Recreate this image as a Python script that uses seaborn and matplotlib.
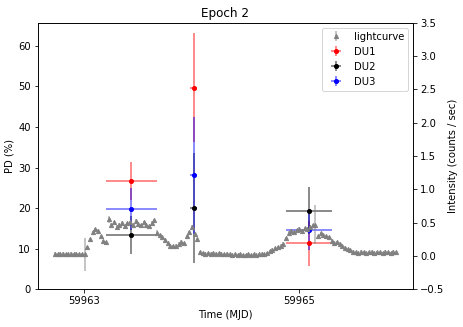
import matplotlib
matplotlib.use("Agg")
import matplotlib.pyplot as plt
import seaborn as sns
import numpy as np

# ---------------- data ----------------
lc_time = [
    59962.730, 59962.755, 59962.780, 59962.805, 59962.830, 59962.855, 59962.880, 59962.905, 59962.930, 59962.955,
    59962.980, 59963.005, 59963.030, 59963.055, 59963.080, 59963.105, 59963.130, 59963.155, 59963.180, 59963.205,
    59963.230, 59963.255, 59963.280, 59963.305, 59963.330, 59963.355, 59963.380, 59963.405, 59963.430, 59963.455,
    59963.480, 59963.505, 59963.530, 59963.555, 59963.580, 59963.605, 59963.630, 59963.655, 59963.680, 59963.705,
    59963.730, 59963.755, 59963.780, 59963.805, 59963.830, 59963.855, 59963.880, 59963.905, 59963.930, 59963.955,
    59963.980, 59964.005, 59964.030, 59964.055, 59964.080, 59964.105, 59964.130, 59964.155, 59964.180, 59964.205,
    59964.230, 59964.255, 59964.280, 59964.305, 59964.330, 59964.355, 59964.380, 59964.405, 59964.430, 59964.455,
    59964.480, 59964.505, 59964.530, 59964.555, 59964.580, 59964.605, 59964.630, 59964.655, 59964.680, 59964.705,
    59964.730, 59964.755, 59964.780, 59964.805, 59964.830, 59964.855, 59964.880, 59964.905, 59964.930, 59964.955,
    59964.980, 59965.005, 59965.030, 59965.055, 59965.080, 59965.105, 59965.130, 59965.155, 59965.180, 59965.205,
    59965.230, 59965.255, 59965.280, 59965.305, 59965.330, 59965.355, 59965.380, 59965.405, 59965.430, 59965.455,
    59965.480, 59965.505, 59965.530, 59965.555, 59965.580, 59965.605, 59965.630, 59965.655, 59965.680, 59965.705,
    59965.730, 59965.755, 59965.780, 59965.805, 59965.830, 59965.855, 59965.880, 59965.905,
]
lc_rate = [
    0.03, 0.02, 0.03, 0.03, 0.02, 0.02, 0.03, 0.02, 0.03, 0.02,
    0.02, 0.02, 0.13, 0.25, 0.36, 0.40, 0.38, 0.29, 0.22, 0.20,
    0.55, 0.47, 0.51, 0.44, 0.47, 0.50, 0.45, 0.49, 0.51, 0.46,
    0.53, 0.48, 0.46, 0.51, 0.47, 0.45, 0.50, 0.54, 0.35, 0.31,
    0.28, 0.24, 0.19, 0.15, 0.14, 0.15, 0.18, 0.21, 0.19, 0.29,
    0.36, 0.44, 0.33, 0.25, 0.05, 0.04, 0.03, 0.04, 0.03, 0.04,
    0.03, 0.04, 0.03, 0.02, 0.03, 0.02, 0.01, 0.02, 0.01, 0.02,
    0.01, 0.01, 0.02, 0.01, 0.02, 0.01, 0.02, 0.03, 0.02, 0.04,
    0.07, 0.09, 0.11, 0.13, 0.15, 0.18, 0.26, 0.35, 0.38, 0.36,
    0.39, 0.41, 0.38, 0.42, 0.40, 0.43, 0.46, 0.47, 0.30, 0.34,
    0.31, 0.30, 0.28, 0.22, 0.19, 0.20, 0.18, 0.14, 0.12, 0.10,
    0.08, 0.06, 0.05, 0.04, 0.06, 0.05, 0.04, 0.05, 0.06, 0.04,
    0.05, 0.05, 0.04, 0.06, 0.05, 0.04, 0.06, 0.05,
]
lc_err = [
    0.02, 0.02, 0.02, 0.02, 0.02, 0.02, 0.02, 0.02, 0.02, 0.02,
    0.02, 0.25, 0.02, 0.02, 0.02, 0.02, 0.02, 0.02, 0.02, 0.02,
    0.05, 0.02, 0.02, 0.02, 0.02, 0.02, 0.02, 0.02, 0.02, 0.02,
    0.02, 0.02, 0.02, 0.02, 0.02, 0.02, 0.02, 0.02, 0.04, 0.02,
    0.02, 0.02, 0.02, 0.02, 0.02, 0.02, 0.02, 0.02, 0.02, 0.02,
    0.02, 0.02, 0.02, 0.02, 0.02, 0.02, 0.02, 0.02, 0.02, 0.02,
    0.02, 0.02, 0.02, 0.02, 0.02, 0.02, 0.02, 0.02, 0.02, 0.02,
    0.02, 0.02, 0.02, 0.02, 0.02, 0.02, 0.02, 0.02, 0.02, 0.02,
    0.02, 0.02, 0.02, 0.02, 0.02, 0.02, 0.02, 0.02, 0.02, 0.02,
    0.02, 0.02, 0.02, 0.02, 0.02, 0.02, 0.02, 0.30, 0.02, 0.02,
    0.02, 0.02, 0.02, 0.02, 0.02, 0.02, 0.02, 0.02, 0.02, 0.02,
    0.02, 0.02, 0.02, 0.02, 0.02, 0.02, 0.02, 0.02, 0.02, 0.02,
    0.02, 0.02, 0.02, 0.02, 0.02, 0.02, 0.02, 0.02,
]

pd_time = [59963.44, 59964.02, 59965.095]
pd_time_err = [0.236, 0.03, 0.214]
du1_pd = [26.7, 49.7, 11.3]
du1_err = [4.7, 13.4, 5.5]
du2_pd = [13.3, 20.0, 19.3]
du2_err = [4.7, 13.6, 5.8]
du3_pd = [19.75, 28.1, 14.6]
du3_err = [5.1, 14.4, 5.0]

xtick_vals = [59963, 59965]
xtick_labels = ["59963", "59965"]

# ---------------- style ----------------
sns.set_style("ticks", rc={"axes.edgecolor": "black", "text.color": "black",
                           "axes.labelcolor": "black", "xtick.color": "black",
                           "ytick.color": "black"})
plt.rcParams["font.family"] = ["DejaVu Sans"]
plt.rcParams["font.size"] = 10

fig = plt.figure(figsize=(463 / 72, 327 / 72), dpi=72)
ax = fig.add_subplot(111)
fig.subplots_adjust(left=0.082, right=0.892, bottom=0.116, top=0.930)
ax2 = ax.twinx()

def ec(c, a=0.5):
    r, g, b = matplotlib.colors.to_rgb(c)
    return (r, g, b, a)

h_lc = ax2.errorbar(lc_time, lc_rate, yerr=lc_err, fmt="^", color="gray",
                    ecolor=ec("gray", 0.6), markersize=4.2, elinewidth=1.5,
                    label="lightcurve")

handles = [h_lc]
for vals, errs, col, lab in [(du1_pd, du1_err, "red", "DU1"),
                             (du2_pd, du2_err, "black", "DU2"),
                             (du3_pd, du3_err, "blue", "DU3")]:
    h = ax.errorbar(pd_time, vals, xerr=pd_time_err, yerr=errs, fmt="o",
                    color=col, ecolor=ec(col, 0.6), markersize=4,
                    elinewidth=1.5, label=lab)
    handles.append(h)

ax.set_ylim(0, 65.7)
ax2.set_ylim(-0.5, 3.5)
ax.set_xticks(xtick_vals)
ax.set_xticklabels(xtick_labels)
ax.set_yticks([0, 10, 20, 30, 40, 50, 60])
ax2.set_yticks([-0.5, 0.0, 0.5, 1.0, 1.5, 2.0, 2.5, 3.0, 3.5])

ax.set_xlabel("Time (MJD)")
ax.set_ylabel("PD (%)")
ax2.set_ylabel("Intensity (counts / sec)")
ax.set_title("Epoch 2")

ax2.legend(handles, ["lightcurve", "DU1", "DU2", "DU3"], loc="upper right")

fig.savefig("out.png", dpi=72)
